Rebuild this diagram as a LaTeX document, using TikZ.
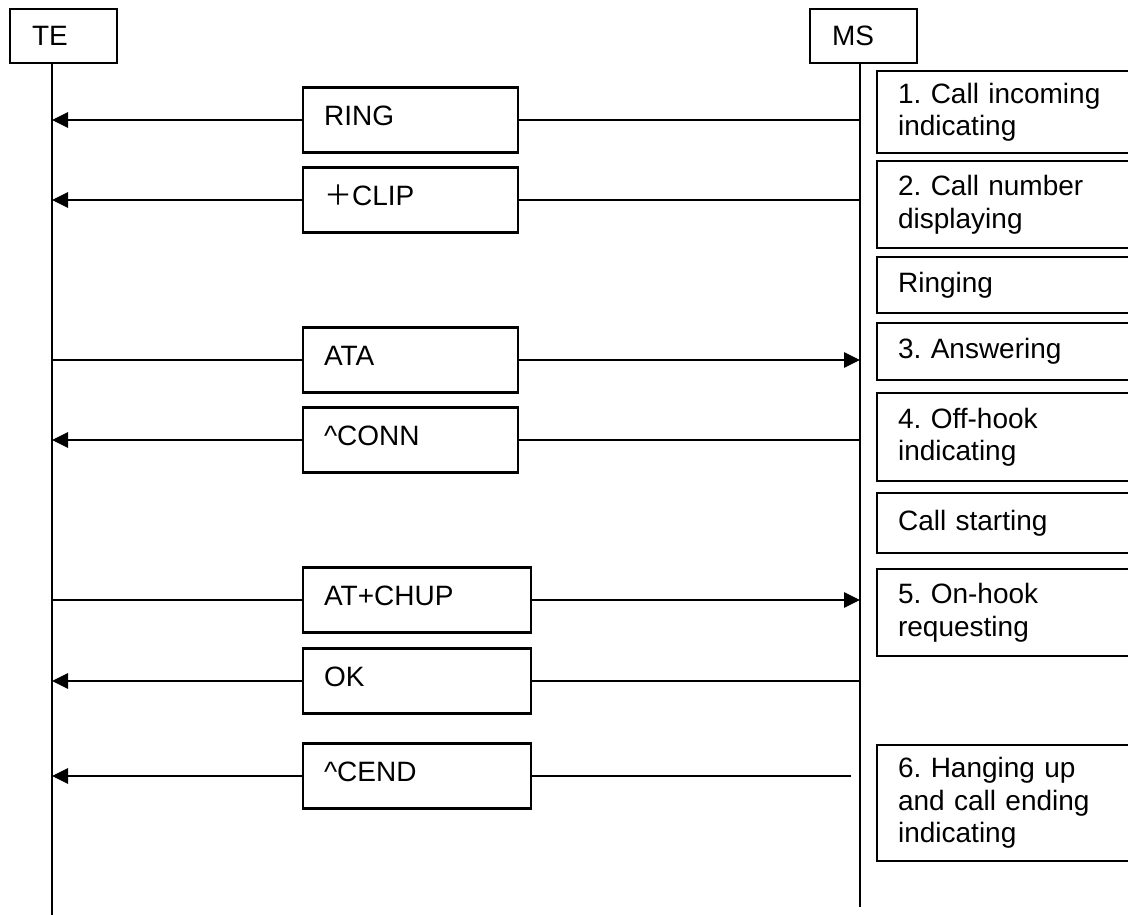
\documentclass[tikz,border=0pt]{standalone}
\usepackage{fontspec}
\setmainfont{Liberation Sans}
\newfontfamily\cjk{Noto Sans CJK SC}
\usetikzlibrary{arrows.meta,positioning}
\frenchspacing

\begin{document}
\begin{tikzpicture}[
    x=1pt, y=-1pt,
    every node/.style={font=\fontsize{28}{32.5}\selectfont, line width=2.2pt},
    head/.style={draw, anchor=north west, minimum height=54pt, text width=63pt, inner xsep=22pt, inner ysep=0pt, align=left},
    msgbox/.style={draw, anchor=west, minimum height=65pt, text width=173pt, inner xsep=21pt, inner ysep=0pt, align=left, text height=20pt, text depth=9pt},
    state/.style={draw, anchor=north west, text width=212pt, inner xsep=21pt, inner ysep=0pt, align=left},
    life/.style={line width=2.2pt},
    msg/.style={line width=2.8pt},
    msgarrow/.style={-{Triangle[length=16pt, width=15pt]}}
]
    \useasboundingbox (0,0) rectangle (1128,915);

    % Entities and lifelines
    \node[head] (te) at (9,8) {TE};
    \node[head] (ms) at (809,8) {MS};
    \coordinate (teend) at (52,915);
    \coordinate (msend) at (860,907);
    \draw[life] (te.south -| teend) -- (teend);
    \draw[life] (ms.south -| msend) -- (msend);

    % Messages
    \node[msgbox] (ring) at (302,120) {RING};
    \node[msgbox] (clip) at (302,200) {{\cjk ＋}CLIP};
    \node[msgbox] (ata) at (302,360) {ATA};
    \node[msgbox] (conn) at (302,440) {\textasciicircum CONN};
    \node[msgbox, text width=186pt] (chup) at (302,600) {AT+CHUP};
    \node[msgbox, text width=186pt] (ok) at (302,681) {OK};
    \node[msgbox, text width=186pt] (cend) at (302,776) {\textasciicircum CEND};

    % MS -> TE
    \foreach \m in {ring, clip, conn, ok, cend} {
        \draw[msg, msgarrow] (\m.west) -- (\m.west -| teend);
    }
    \foreach \m in {ring, clip, conn, ok} {
        \draw[msg] (\m.east) -- (\m.east -| msend);
    }
    \draw[msg, shorten >=9pt] (cend.east) -- (cend.east -| msend);

    % TE -> MS
    \foreach \m in {ata, chup} {
        \draw[msg] (\m.west) -- (\m.west -| teend);
        \draw[msg, msgarrow] (\m.east) -- (\m.east -| msend);
    }

    % States at MS
    \node[state, minimum height=82pt] (s1) at (876,70) {1. Call incoming\\indicating};
    \node[state, minimum height=87pt] (s2) at (876,160) {2. Call number\\displaying};
    \node[state, minimum height=56pt] (s3) at (876,256) {Ringing};
    \node[state, minimum height=57pt] (s4) at (876,322) {3. Answering};
    \node[state, minimum height=88pt] (s5) at (876,392) {4. Off-hook\\indicating};
    \node[state, minimum height=60pt] (s6) at (876,492) {Call starting};
    \node[state, minimum height=87pt] (s7) at (876,568) {5. On-hook\\requesting};
    \node[state, minimum height=116pt] (s8) at (876,744) {6. Hanging up\\and call ending\\indicating};

\end{tikzpicture}
\end{document}
